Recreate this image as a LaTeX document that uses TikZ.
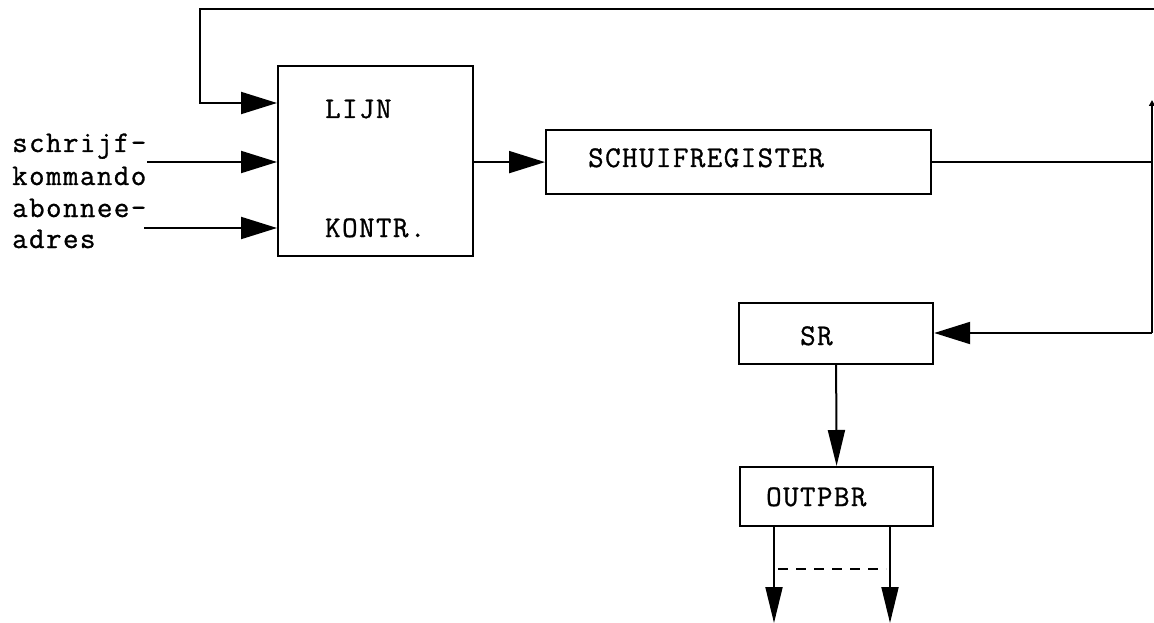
\documentclass[tikz,border=0pt]{standalone}
\usepackage{fontspec}
\newfontfamily\twfont{Latin Modern Mono}[LetterSpace=5,FakeBold=1]
\usetikzlibrary{arrows.meta}
\begin{document}
\begin{tikzpicture}[x=1pt,y=-1pt,
  box/.style={draw, line width=2.2pt, inner sep=0pt, anchor=north west},
  lab/.style={font=\twfont\fontsize{30}{32}\selectfont, inner sep=0pt, anchor=base west},
  wire/.style={line width=2pt},
  arr/.style={wire, -{Triangle[length=36pt,width=22pt]}},
  darr/.style={wire, -{Triangle[length=36pt,width=17pt]}}]
\useasboundingbox (0,0) rectangle (1154,623);
% boxes
\node[box, minimum width=195pt, minimum height=190pt] (lijn) at (277,65) {};
\node[box, minimum width=385pt, minimum height=64pt] (schuif) at (545,129) {};
\node[box, minimum width=194pt, minimum height=61pt] (sr) at (738,302) {};
\node[box, minimum width=193pt, minimum height=59pt] (out) at (739,466) {};
% texts
\node[lab] (tlijn) at (325,118) {LIJN};
\node[lab] (tkontr) at (325,237) {KONTR.};
\node[lab] (tschuif) at (588,167) {SCHUIFREGISTER};
\node[lab] (tsr) at (800,345) {SR};
\node[lab] (tout) at (766,506) {OUTPBR};
\node[lab] (l1) at (12,152) {schrijf-};
\node[lab] (l2) at (12,185) {kommando};
\node[lab] (l3) at (12,217) {abonnee-};
\node[lab] (l4) at (12,248) {adres};
% coordinates
\coordinate (topR) at (1154,9);
\coordinate (topL) at (200,9);
\coordinate (fbin) at (200,103);
\coordinate (in1) at (147,162);
\coordinate (in2) at (144,228);
\coordinate (rt) at (1152,100);
\coordinate (rb) at (1152,333);
\coordinate (o1) at (774,623);
\coordinate (o2) at (890,623);
\coordinate (d1) at (778,569);
\coordinate (d2) at (886,569);
% connectors
\draw[arr] (topR) -- (topL) -- (fbin) -- (lijn.west |- fbin);
\draw[arr] (in1) -- (lijn.west |- in1);
\draw[arr] (in2) -- (lijn.west |- in2);
\draw[arr] (lijn.east |- schuif.west) -- (schuif.west);
\draw[wire] (schuif.east) -- (schuif.east -| rt);
\draw[wire, {Triangle[length=6pt,width=6pt]}-] (rt) -- (rb);
\draw[arr] (rb) -- (sr.east |- rb);
\draw[darr] (sr.south) -- (out.north);
\draw[darr] (out.south -| o1) -- (o1);
\draw[darr] (out.south -| o2) -- (o2);
\draw[wire, dash pattern=on 10pt off 8pt] (d1) -- (d2);
\end{tikzpicture}
\end{document}
